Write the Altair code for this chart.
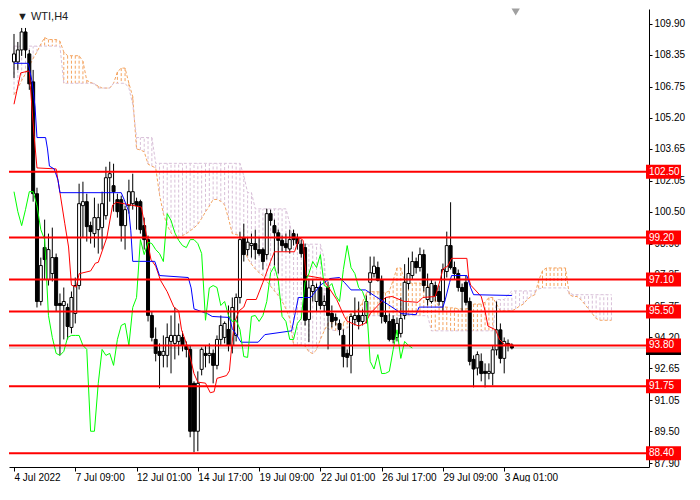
import altair as alt
import pandas as pd

FONT = "Liberation Sans"

# H4 candles, bar 0 = 4 Jul 2022
opens = [108.0, 108.0, 108.6, 109.5, 108.4, 107.0, 101.4, 96.0, 98.7, 97.1,
         97.4, 98.2, 95.9, 95.8, 95.7, 94.7, 95.4, 96.8, 100.8, 101.0,
         99.8, 99.4, 99.6, 99.7, 100.3, 102.2, 101.8, 101.1, 101.1, 99.8,
         100.8, 100.9, 101.0, 101.0, 99.8, 99.1, 95.3, 94.1, 93.5, 93.3,
         93.3, 94.0, 93.9, 94.0, 94.2, 93.8, 93.6, 91.9, 89.5, 92.6,
         93.4, 93.3, 93.4, 92.8, 94.1, 94.2, 94.6, 93.8, 94.3, 96.2,
         99.2, 98.6, 98.8, 98.9, 98.6, 98.6, 98.35, 100.4, 99.8, 99.44,
         99.06, 98.9, 98.63, 99.4, 99.2, 98.87, 98.7, 95.1, 96.5, 96.0,
         96.7, 95.8, 96.7, 95.4, 95.2, 94.9, 94.3, 93.4, 93.3, 95.1,
         95.3, 95.0, 95.3, 96.96, 97.4, 97.7, 97.06, 95.3, 95.0, 95.1,
         94.2, 94.4, 95.3, 96.9, 97.3, 98.0, 97.7, 98.35, 96.1, 96.0,
         96.8, 96.5, 96.0, 97.5, 98.8, 97.7, 97.4, 96.7, 96.96, 96.0,
         93.1, 92.67, 93.0, 92.5, 92.4, 92.4, 93.58, 94.58, 93.15, 93.9,
         93.82]
highs = [109.4, 109.0, 109.7, 109.7, 108.6, 107.6, 101.7, 98.2, 100.1, 99.4,
         99.7, 98.4, 96.4, 96.7, 95.9, 96.5, 97.2, 101.9, 102.0, 101.4,
         100.0, 101.2, 100.9, 101.5, 102.75, 103.0, 102.9, 101.4, 101.3, 100.8,
         102.1, 102.4, 101.2, 101.1, 100.2, 99.3, 95.5, 94.7, 93.9, 94.3,
         94.9, 95.3, 95.7, 94.9, 94.5, 94.0, 93.8, 92.0, 92.5, 93.7,
         93.8, 93.9, 93.6, 94.3, 95.3, 95.0, 95.8, 96.2, 96.4, 99.5,
         99.9, 99.2, 99.4, 99.6, 99.2, 98.7, 100.65, 100.6, 100.1, 99.6,
         99.3, 99.4, 99.6, 99.6, 99.4, 99.1, 98.9, 97.1, 97.1, 96.9,
         97.0, 96.3, 97.0, 95.8, 95.4, 95.1, 94.6, 93.6, 95.4, 96.2,
         96.0, 95.6, 96.3, 98.25, 98.25, 98.0, 97.3, 96.2, 95.4, 95.3,
         95.2, 96.2, 97.87, 98.2, 98.5, 98.2, 98.7, 98.6, 97.4, 97.1,
         97.0, 96.8, 97.9, 99.5, 100.97, 98.0, 97.6, 96.9, 97.3, 96.2,
         93.3, 93.5, 93.4, 92.9, 92.9, 93.8, 96.0, 94.9, 94.2, 94.1,
         93.9]
lows = [107.2, 107.6, 108.3, 108.2, 106.6, 101.0, 95.7, 95.8, 97.1, 96.8,
        97.0, 95.5, 93.3, 94.1, 94.1, 94.4, 94.9, 96.6, 99.2, 99.0,
        98.9, 98.7, 98.4, 98.6, 100.1, 101.0, 100.5, 100.2, 99.0, 98.6,
        100.4, 100.6, 99.6, 99.4, 98.6, 95.0, 94.0, 93.0, 91.65, 92.7,
        92.7, 92.4, 93.1, 93.3, 93.5, 93.2, 89.2, 88.45, 88.5, 92.3,
        92.7, 92.9, 91.9, 92.6, 93.8, 93.9, 93.5, 93.4, 94.0, 95.9,
        98.0, 98.3, 98.2, 98.1, 98.3, 97.6, 98.1, 99.8, 97.8, 97.4,
        98.5, 98.5, 98.4, 98.8, 98.6, 98.2, 94.8, 93.96, 96.0, 95.5,
        95.6, 95.5, 93.6, 94.7, 94.8, 94.3, 92.7, 92.7, 92.4, 94.8,
        94.6, 94.8, 94.9, 96.3, 97.2, 97.0, 94.9, 94.9, 94.0, 93.9,
        94.0, 94.2, 95.1, 96.6, 97.1, 97.4, 97.5, 96.5, 95.8, 95.9,
        96.0, 95.8, 95.5, 97.2, 97.6, 97.1, 96.5, 95.5, 95.8, 92.8,
        91.7, 92.3, 92.0, 91.7, 92.1, 91.8, 93.3, 92.9, 92.4, 93.5,
        93.6]
closes = [108.4, 108.6, 109.5, 108.6, 106.9, 101.4, 96.0, 97.8, 98.1, 98.6,
          98.2, 95.8, 95.8, 96.0, 94.75, 96.2, 96.8, 100.9, 101.0, 99.75,
          99.5, 100.2, 100.2, 100.9, 102.2, 102.4, 101.5, 100.5, 99.8, 100.6,
          101.5, 101.5, 100.8, 99.6, 99.1, 95.3, 94.2, 93.4, 93.3, 93.5,
          94.2, 94.3, 94.3, 94.3, 93.8, 93.6, 89.5, 89.5, 91.9, 93.6,
          93.3, 93.4, 92.8, 94.1, 94.8, 94.9, 93.8, 95.7, 96.2, 99.1,
          98.35, 98.97, 98.9, 98.6, 98.4, 98.0, 100.4, 100.06, 99.44, 99.06,
          98.8, 98.7, 99.1, 99.1, 98.9, 98.4, 95.06, 96.68, 96.8, 96.7,
          95.8, 96.0, 95.3, 95.0, 95.06, 94.6, 93.24, 93.2, 95.25, 95.3,
          95.0, 95.3, 96.0, 97.44, 97.77, 97.06, 95.25, 95.0, 94.1, 94.1,
          94.9, 95.15, 96.96, 97.4, 98.0, 97.7, 98.35, 96.8, 96.7, 96.9,
          96.3, 96.0, 97.6, 98.8, 97.7, 97.4, 96.7, 96.5, 95.96, 93.0,
          92.62, 93.34, 92.39, 92.4, 92.5, 93.58, 94.58, 93.15, 94.0, 93.8,
          93.67]

# Ichimoku: Tenkan-sen (red) and Kijun-sen (blue) turning points
tenkan_bar = [0, 1.75, 4, 4.25, 5.25, 6, 11, 12, 13.25, 14.25, 15, 16.25, 17, 20,
              21.25, 22, 24.25, 25.75, 26.75, 33.25, 34.25, 35, 35.75, 37, 38.25,
              40, 41.75, 43, 43.75, 45.5, 47, 48, 50, 51.25, 52.25, 53, 55.5,
              56.25, 56.75, 57.5, 58.75, 60, 60.75, 63.25, 65, 67, 68, 73.25,
              74.5, 75.5, 76.25, 80.75, 81.75, 84.25, 86.25, 87, 90, 91.75, 93,
              97, 98.75, 101.75, 105.5, 106.75, 110, 111.25, 112, 113.25,
              114.25, 118.25, 118.75, 119.25, 122, 123, 123.75, 125.75, 126.75,
              128, 130]
tenkan_val = [105.88, 107.45, 107.55, 106.83, 104.31, 102.69, 102.64, 101.45,
              99.92, 98.73, 96.82, 96.72, 97.39, 97.53, 97.92, 97.96, 99.21,
              100.83, 100.97, 100.73, 99.68, 98.87, 98.11, 97.77, 97.06, 96.49,
              95.72, 95.53, 94.58, 93.63, 92.39, 91.96, 91.91, 91.43, 91.48,
              92.15, 92.29, 92.53, 93.58, 94.91, 95.53, 95.72, 96.1, 96.1,
              96.96, 98.01, 98.49, 98.49, 99.21, 99.06, 97.3, 97.15, 96.82,
              96.1, 95.25, 95.01, 94.77, 94.91, 95.39, 96.2, 96.25, 96.01,
              95.96, 96.2, 96.25, 97.06, 97.63, 97.77, 98.16, 98.16, 97.15,
              96.82, 96.25, 95.53, 94.77, 94.58, 94.1, 93.86, 93.86]
kijun_bar = [0, 3.75, 4.25, 4.75, 5.5, 6, 8.25, 8.75, 9.25, 10.5, 11.5, 12, 28,
             28.75, 30, 30.5, 31, 36.75, 38, 45.5, 46.25, 47, 50.5, 51.75,
             56.25, 57, 58.25, 59.25, 63.75, 65.5, 72.5, 74.25, 77.5, 80, 82.5,
             85, 86.25, 88, 91.75, 97.5, 101.25, 105, 105.75, 112, 112.5,
             113.75, 114.25, 118.25, 119.25, 120, 130]
kijun_val = [107.93, 107.93, 107.45, 106.98, 105.74, 104.21, 104.21, 103.64,
             102.78, 102.64, 102.07, 101.45, 101.45, 101.11, 100.49, 99.54,
             98.01, 98.01, 97.3, 97.2, 96.68, 95.63, 95.39, 95.25, 95.2, 94.63,
             94.29, 93.96, 93.96, 94.34, 94.53, 96.2, 96.2, 96.82, 97.15, 97.2,
             96.96, 96.58, 96.58, 95.87, 95.39, 95.34, 95.72, 95.72, 96.01,
             96.96, 97.3, 97.3, 96.68, 96.34, 96.3]

# Senkou Span A / B, one value per bar (26 bars ahead of the last candle)
span_a = [106.36, 106.69, 107.07, 107.41, 107.79, 108.17, 108.50, 108.89, 109.22, 109.12,
          109.12, 109.12, 109.03, 108.50, 108.31, 108.31, 108.31, 108.31, 108.03, 107.07,
          106.98, 106.88, 106.79, 106.69, 106.69, 106.69, 106.93, 107.50, 107.69, 107.69,
          106.93, 106.26, 103.64, 103.59, 103.50, 102.88, 102.78, 102.69, 101.35, 100.40,
          99.82, 99.44, 99.20, 99.20, 99.30, 99.40, 99.54, 99.68, 99.87, 100.16,
          100.49, 100.78, 101.11, 101.11, 101.02, 100.83, 100.16, 99.40, 99.35, 99.30,
          98.73, 98.16, 97.87, 97.63, 97.44, 97.30, 97.01, 96.77, 96.53, 96.30,
          96.01, 95.63, 95.15, 93.82, 93.82, 93.82, 93.77, 93.48, 93.39, 93.58,
          94.10, 94.53, 94.91, 95.01, 94.91, 94.77, 94.91, 95.25, 95.39, 95.49,
          95.63, 95.96, 96.44, 96.49, 96.49, 96.49, 96.44, 96.44, 96.53, 97.06,
          97.68, 97.68, 97.01, 96.92, 96.92, 96.92, 96.92, 96.82, 96.82, 96.58,
          96.10, 95.72, 95.72, 95.72, 95.68, 95.68, 95.63, 95.63, 95.63, 95.68,
          95.87, 95.87, 95.87, 95.96, 96.20, 96.20, 95.87, 95.53, 95.53, 95.53,
          95.53, 95.63, 95.77, 95.87, 96.10, 96.25, 96.34, 97.06, 97.54, 97.68,
          97.68, 97.68, 97.68, 97.68, 97.68, 96.34, 96.25, 96.25, 96.10, 95.87,
          95.63, 95.39, 95.15, 95.06, 95.06, 95.06, 95.06]
span_b = [108.79, 108.79, 108.79, 108.79, 108.79, 108.79, 108.79, 108.79, 108.79, 108.79,
          108.79, 108.79, 108.79, 106.93, 106.93, 106.93, 106.93, 106.93, 106.93, 106.93,
          106.93, 106.93, 106.69, 106.69, 106.69, 106.69, 106.93, 106.93, 106.93, 106.93,
          106.69, 105.88, 104.21, 104.21, 104.21, 104.21, 104.21, 102.92, 102.92, 102.92,
          102.92, 102.92, 102.92, 102.92, 102.92, 102.92, 102.92, 102.92, 102.92, 102.92,
          102.92, 102.92, 102.92, 102.92, 102.92, 102.92, 102.92, 102.92, 102.92, 102.92,
          102.30, 101.45, 101.45, 100.64, 100.64, 100.64, 100.64, 100.64, 100.64, 100.64,
          100.64, 100.64, 99.92, 98.87, 98.87, 98.87, 98.87, 98.87, 98.87, 98.87,
          98.87, 98.16, 94.63, 94.58, 94.53, 94.53, 94.58, 94.67, 94.82, 94.91,
          95.06, 95.25, 95.29, 95.29, 95.29, 95.29, 95.29, 95.29, 95.29, 95.29,
          95.29, 95.29, 95.29, 95.29, 95.29, 95.29, 95.29, 95.29, 95.29, 94.53,
          94.53, 94.53, 94.53, 94.53, 94.53, 94.53, 94.53, 94.53, 94.53, 94.53,
          94.53, 94.53, 94.53, 94.53, 94.53, 94.53, 96.10, 96.10, 96.10, 96.34,
          96.53, 96.53, 96.53, 96.53, 96.53, 96.53, 96.53, 96.63, 96.68, 96.68,
          96.68, 96.68, 96.68, 96.68, 96.68, 96.44, 96.34, 96.34, 96.34, 96.34,
          96.34, 96.34, 96.34, 96.34, 96.34, 96.34, 96.34]

levels = [102.50, 99.20, 97.10, 95.50, 93.80, 91.75, 88.40]
last_price = 93.67

y_ticks = [109.90, 108.35, 106.75, 105.20, 103.65, 102.05, 100.50, 98.90,
           97.35, 95.75, 94.20, 92.65, 91.05, 89.50, 87.90]
x_tick_bars = [0, 16, 32, 48, 64, 80, 96, 112, 128]
x_tick_labels = ["4 Jul 2022", "7 Jul 09:00", "12 Jul 01:00", "14 Jul 17:00",
                 "19 Jul 09:00", "22 Jul 01:00", "26 Jul 17:00", "29 Jul 09:00",
                 "3 Aug 01:00"]

X_MAX = 164.5
Y_MIN, Y_MAX = 87.71, 110.65
W, H = 640, 458

candles = pd.DataFrame({"bar": range(len(opens)), "open": opens, "high": highs,
                        "low": lows, "close": closes})
cloud = pd.DataFrame({"bar": range(len(span_a)), "a": span_a, "b": span_b})
chikou = pd.DataFrame({"bar": range(len(closes) - 26), "price": closes[26:]})
tenkan = pd.DataFrame({"bar": tenkan_bar, "price": tenkan_val})
kijun = pd.DataFrame({"bar": kijun_bar, "price": kijun_val})
lev = pd.DataFrame({"level": levels, "txt": [f"{v:.2f}" for v in levels]})
last = pd.DataFrame({"level": [last_price], "txt": [f"{last_price:.2f}"]})

x_scale = alt.Scale(domain=[0, X_MAX], nice=False, zero=False)
y_scale = alt.Scale(domain=[Y_MIN, Y_MAX], nice=False, zero=False)

bars_js = "[" + ",".join(str(b) for b in x_tick_bars) + "]"
labels_js = "[" + ",".join(f"'{t}'" for t in x_tick_labels) + "]"
x_axis = alt.Axis(values=x_tick_bars, labelExpr=f"{labels_js}[indexof({bars_js}, datum.value)]",
                  labelAlign="left", tickSize=4, labelPadding=1, labelOverlap=False,
                  labelFlush=False, grid=False)
y_axis = alt.Axis(orient="right", values=y_ticks, format=".2f", tickSize=3,
                  labelPadding=2, labelOverlap=False, labelFlush=False, grid=False)


def X(field="bar"):
    return alt.X(f"{field}:Q", scale=x_scale, axis=x_axis, title=None)


def Y(field):
    return alt.Y(f"{field}:Q", scale=y_scale, axis=y_axis, title=None)


def XD(v):
    return alt.XDatum(v, type="quantitative", scale=x_scale, axis=x_axis, title=None)


def YD(v):
    return alt.YDatum(v, type="quantitative", scale=y_scale, axis=y_axis, title=None)


# cloud: dotted hatch between the spans
hatch = alt.Chart(cloud).mark_rule(strokeDash=[3, 2], strokeWidth=1, clip=True).encode(
    x=X(), y=Y("a"), y2="b",
    color=alt.condition("datum.a >= datum.b", alt.value("#F4A460"), alt.value("#D8BFD8")))
line_a = alt.Chart(cloud).mark_line(color="#F4A460", strokeDash=[3, 2], strokeWidth=1, clip=True).encode(
    x=X(), y=Y("a"))
line_b = alt.Chart(cloud).mark_line(color="#D8BFD8", strokeDash=[3, 2], strokeWidth=1, clip=True).encode(
    x=X(), y=Y("b"))

price_line = alt.Chart(last).mark_rule(color="#C0C0C0", strokeWidth=1).encode(y=Y("level"))

wicks = alt.Chart(candles).mark_rule(color="black", strokeWidth=1, clip=True).encode(
    x=X(), y=Y("low"), y2="high")
bodies = alt.Chart(candles).mark_bar(size=3, stroke="black", strokeWidth=1, clip=True).encode(
    x=X(), y=Y("open"), y2="close",
    fill=alt.condition("datum.close >= datum.open", alt.value("white"), alt.value("black")))

tenkan_line = alt.Chart(tenkan).mark_line(color="#FF0000", strokeWidth=1, clip=True).encode(
    x=X(), y=Y("price"))
kijun_line = alt.Chart(kijun).mark_line(color="#0000FF", strokeWidth=1, clip=True).encode(
    x=X(), y=Y("price"))
chikou_line = alt.Chart(chikou).mark_line(color="#00FF00", strokeWidth=1, clip=True).encode(
    x=X(), y=Y("price"))

level_lines = alt.Chart(lev).mark_rule(color="#FF0000", strokeWidth=2).encode(y=Y("level"))

# price tags on the right scale
last_box = alt.Chart(last).mark_rect(color="black", xOffset=2, x2Offset=37,
                                     yOffset=-6, y2Offset=7).encode(
    x=XD(X_MAX), x2=alt.datum(X_MAX), y=Y("level"), y2="level")
last_txt = alt.Chart(last).mark_text(align="left", baseline="middle", dx=5, dy=1,
                                     color="white", font=FONT, fontSize=10).encode(
    x=XD(X_MAX), y=Y("level"), text="txt:N")
tag_box = alt.Chart(lev).mark_rect(color="#FF0000", xOffset=2, x2Offset=37,
                                   yOffset=-7, y2Offset=7).encode(
    x=XD(X_MAX), x2=alt.datum(X_MAX), y=Y("level"), y2="level")
tag_txt = alt.Chart(lev).mark_text(align="left", baseline="middle", dx=5,
                                   color="white", font=FONT, fontSize=10).encode(
    x=XD(X_MAX), y=Y("level"), text="txt:N")

title = alt.Chart(pd.DataFrame({"t": ["▼ WTI,H4"]})).mark_text(
    align="left", baseline="middle", dx=3, dy=8, font=FONT, fontSize=11, color="#202020").encode(
    x=XD(0), y=YD(Y_MAX), text="t:N")
shift_mark = alt.Chart(pd.DataFrame({"s": [1]})).mark_point(
    shape="triangle-down", filled=True, color="#A0A0A0", size=70, opacity=1, yOffset=3).encode(
    x=XD(131), y=YD(Y_MAX))

chart = (alt.layer(hatch, line_a, line_b, price_line, wicks, bodies,
                   tenkan_line, kijun_line, chikou_line, level_lines,
                   last_box, last_txt, tag_box, tag_txt, title, shift_mark)
         .properties(width=W, height=H, background="white",
                     padding={"left": 0, "top": 0, "right": 2, "bottom": 0})
         .configure_view(stroke=None)
         .configure_axis(labelFont=FONT, labelFontSize=10, labelColor="black",
                         domainColor="black", tickColor="black", labelOverlap=False))

chart.save("out.html", embed_options={"renderer": "svg", "actions": False})
